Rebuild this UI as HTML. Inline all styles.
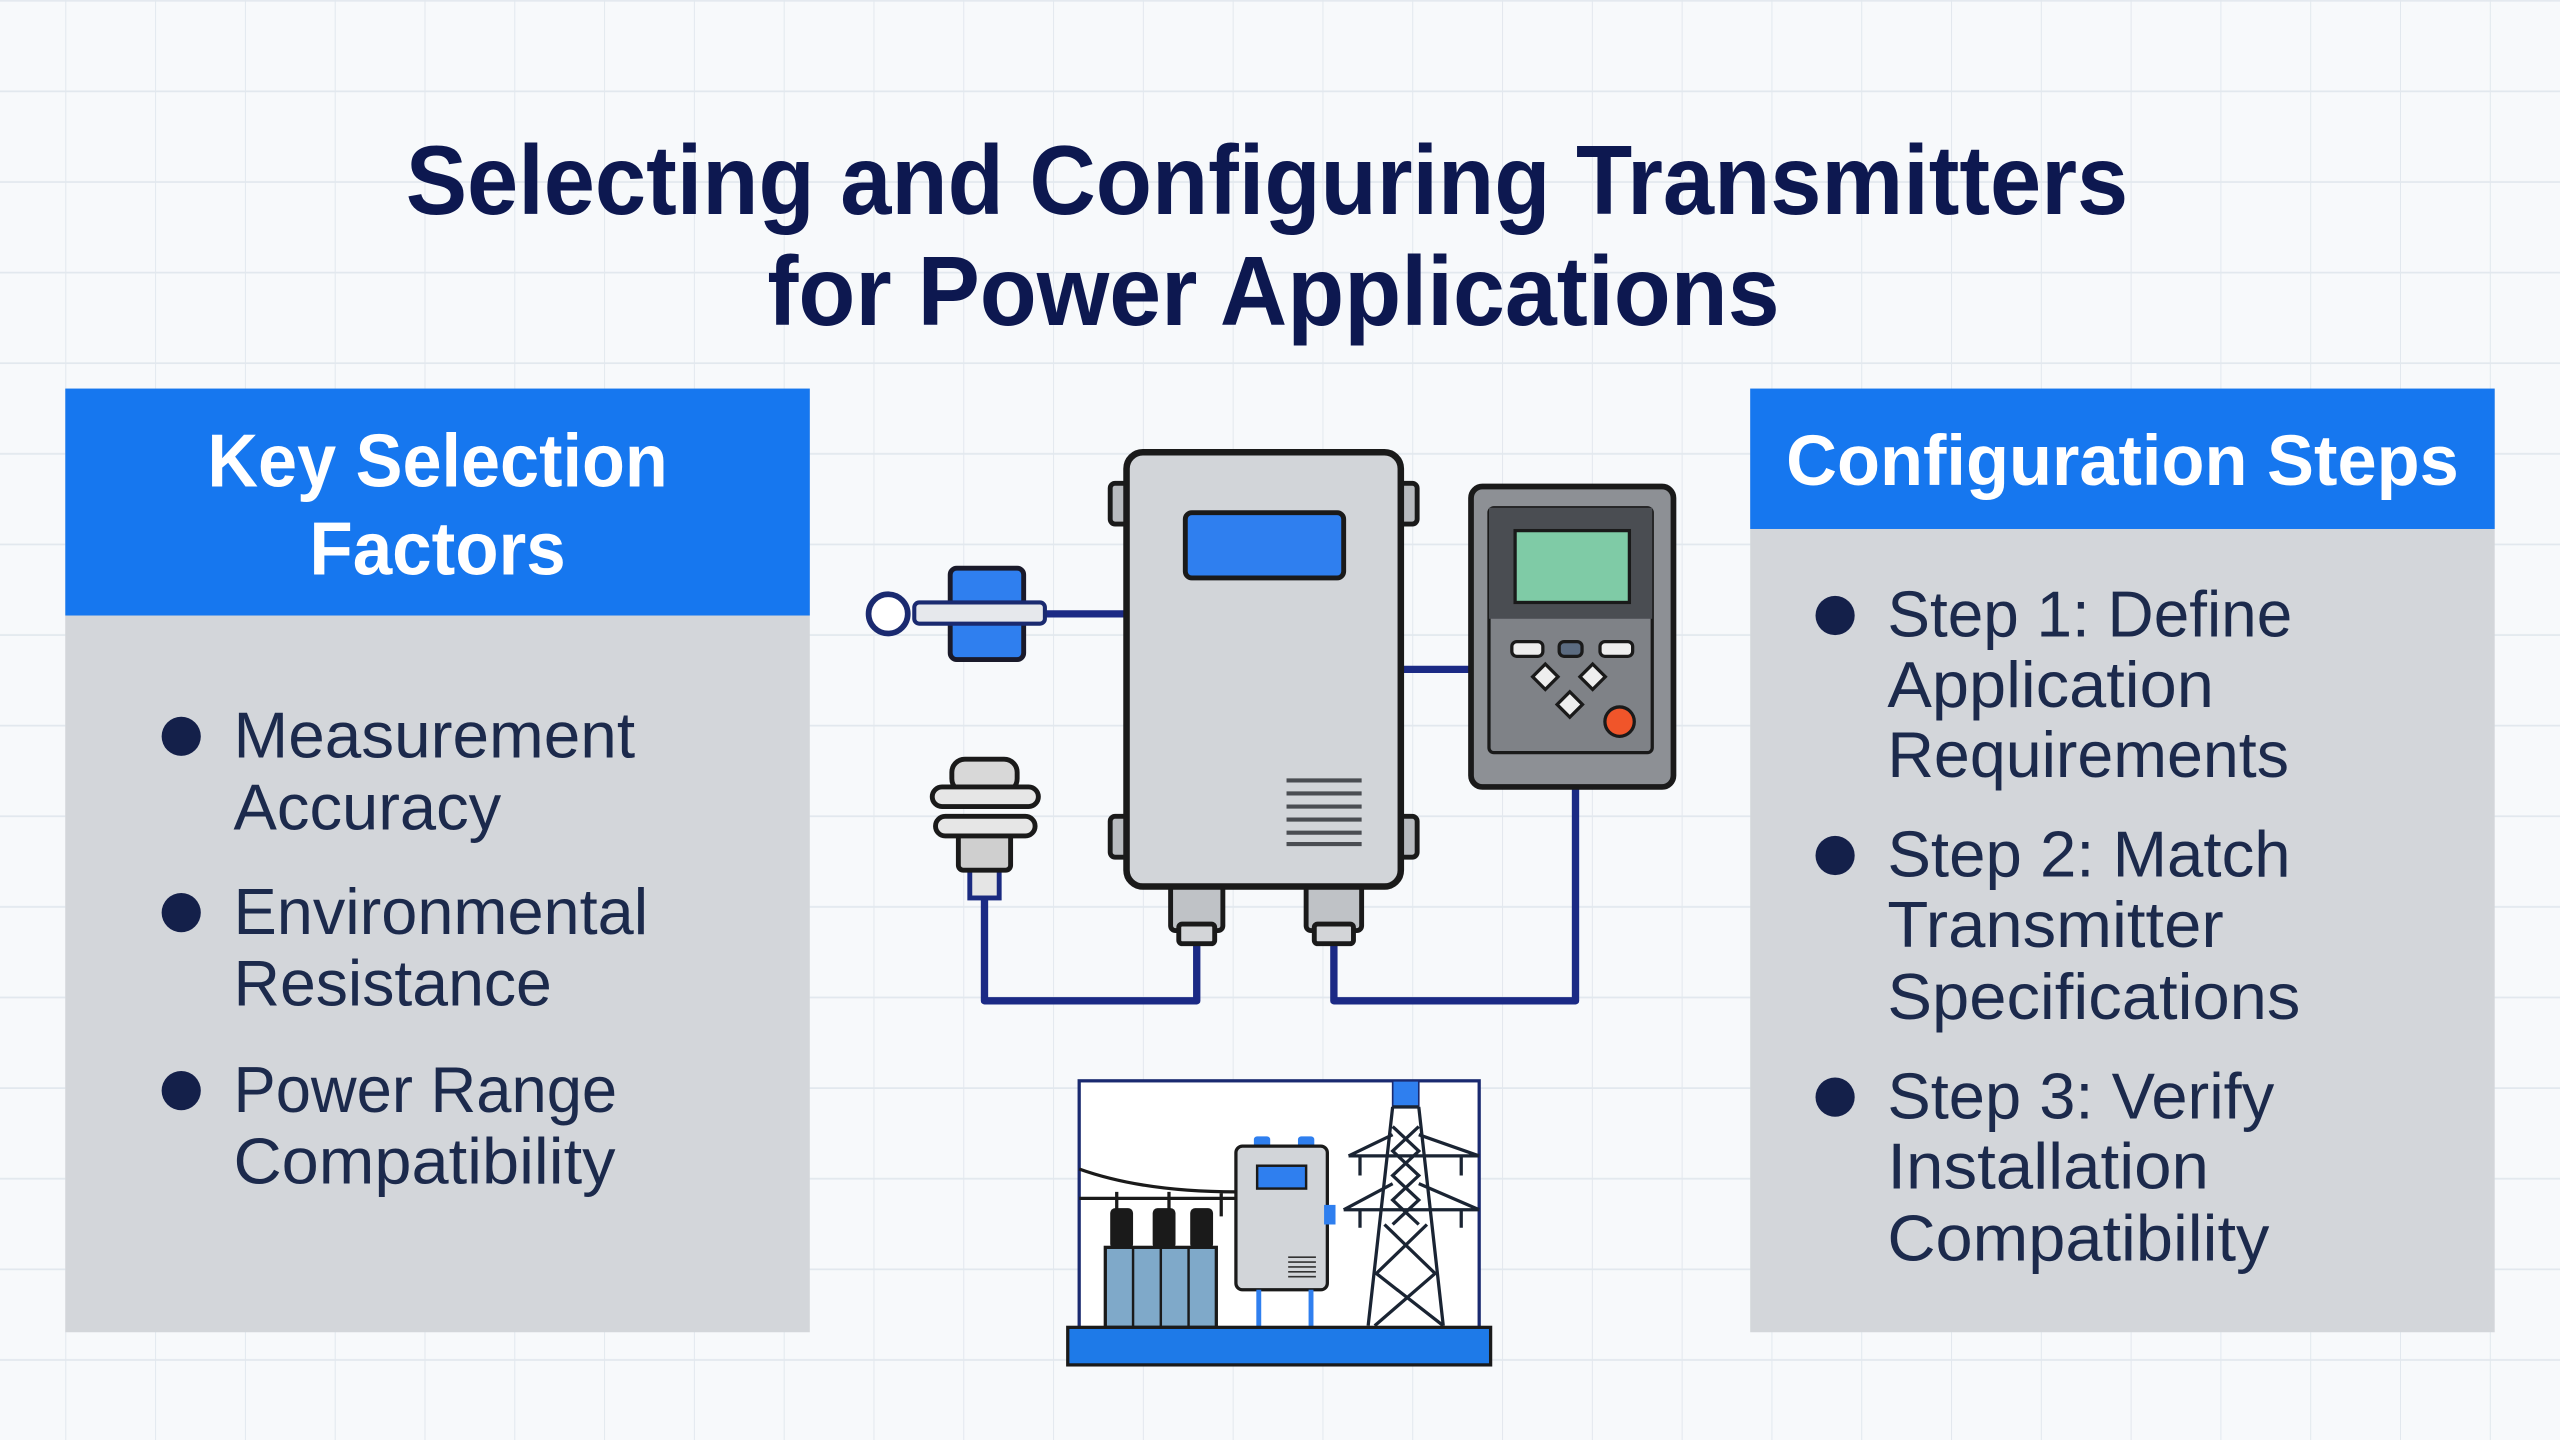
<!DOCTYPE html>
<html><head><meta charset="utf-8"><style>
html,body{margin:0;padding:0;background:#f7f9fb;}
svg{display:block}
text{font-family:"Liberation Sans",Arial,sans-serif}
</style></head><body>
<svg width="2560" height="1440" viewBox="0 0 1568 882" xmlns="http://www.w3.org/2000/svg">
<defs>
<pattern id="g" x="40" y="1" width="55" height="55.5" patternUnits="userSpaceOnUse">
<path d="M0 0V55.5M0 55H55" stroke="#e2e8ee" stroke-width="1.2" fill="none"/>
</pattern>
</defs>
<rect width="1568" height="882" fill="#f7f9fb"/>
<rect width="1568" height="882" fill="url(#g)"/>
<g fill="#0d1850" font-weight="bold" font-size="60" text-anchor="middle">
<text x="776" y="131" textLength="1055" lengthAdjust="spacingAndGlyphs">Selecting and Configuring Transmitters</text>
<text x="780" y="199" textLength="620" lengthAdjust="spacingAndGlyphs">for Power Applications</text>
</g>
<!-- left panel -->
<rect x="40" y="238" width="456" height="578" fill="#d3d6da"/>
<rect x="40" y="238" width="456" height="139" fill="#1677ef"/>
<g fill="#fff" font-weight="bold" font-size="46" text-anchor="middle">
<text x="268" y="298" textLength="282" lengthAdjust="spacingAndGlyphs">Key Selection</text>
<text x="268" y="352" textLength="157" lengthAdjust="spacingAndGlyphs">Factors</text>
</g>
<g fill="#14204a">
<circle cx="111" cy="451" r="12"/><circle cx="111" cy="559" r="12"/><circle cx="111" cy="668" r="12"/>
</g>
<g fill="#1c2a4c" font-size="40">
<text x="143" y="464" textLength="246" lengthAdjust="spacingAndGlyphs">Measurement</text>
<text x="143" y="508" textLength="164" lengthAdjust="spacingAndGlyphs">Accuracy</text>
<text x="143" y="572" textLength="254" lengthAdjust="spacingAndGlyphs">Environmental</text>
<text x="143" y="616" textLength="195" lengthAdjust="spacingAndGlyphs">Resistance</text>
<text x="143" y="681" textLength="235" lengthAdjust="spacingAndGlyphs">Power Range</text>
<text x="143" y="725" textLength="234" lengthAdjust="spacingAndGlyphs">Compatibility</text>
</g>
<!-- right panel -->
<rect x="1072" y="238" width="456" height="578" fill="#d3d6da"/>
<rect x="1072" y="238" width="456" height="86" fill="#1677ef"/>
<text x="1300" y="297" fill="#fff" font-weight="bold" font-size="44" text-anchor="middle" textLength="412" lengthAdjust="spacingAndGlyphs">Configuration Steps</text>
<g fill="#14204a">
<circle cx="1124" cy="377" r="12"/><circle cx="1124" cy="524" r="12"/><circle cx="1124" cy="672" r="12"/>
</g>
<g fill="#1c2a4c" font-size="40">
<text x="1156" y="390" textLength="248" lengthAdjust="spacingAndGlyphs">Step 1: Define</text>
<text x="1156" y="433" textLength="200" lengthAdjust="spacingAndGlyphs">Application</text>
<text x="1156" y="476" textLength="246" lengthAdjust="spacingAndGlyphs">Requirements</text>
<text x="1156" y="537" textLength="247" lengthAdjust="spacingAndGlyphs">Step 2: Match</text>
<text x="1156" y="580" textLength="206" lengthAdjust="spacingAndGlyphs">Transmitter</text>
<text x="1156" y="624" textLength="253" lengthAdjust="spacingAndGlyphs">Specifications</text>
<text x="1156" y="685" textLength="237" lengthAdjust="spacingAndGlyphs">Step 3: Verify</text>
<text x="1156" y="728" textLength="197" lengthAdjust="spacingAndGlyphs">Installation</text>
<text x="1156" y="772" textLength="234" lengthAdjust="spacingAndGlyphs">Compatibility</text>
</g>
<!-- wires -->
<g stroke="#1b2a85" stroke-width="4.5" fill="none" stroke-linejoin="round">
<path d="M603 548V613H733V578"/>
<path d="M817 578V613H965V482"/>
<path d="M858 410H901"/>
<path d="M640 376H690"/>
</g>
<!-- sensor -->
<rect x="582" y="348" width="45" height="56" rx="4" fill="#2f7fef" stroke="#1a1a2a" stroke-width="3"/>
<rect x="560" y="369" width="80" height="13" rx="3" fill="#e6e8ec" stroke="#1a2a70" stroke-width="2.5"/>
<circle cx="544" cy="376" r="12" fill="#fff" stroke="#1a2a70" stroke-width="3.5"/>
<!-- insulator -->
<g stroke="#1a1a1a" stroke-width="3" fill="#dcdcdc">
<rect x="594" y="530" width="18" height="20" fill="#e5e5e5" stroke="#1a2a80"/>
<rect x="587" y="505" width="32" height="28" rx="3" fill="#cfcfcf"/>
<rect x="583" y="465" width="40" height="20" rx="8" fill="#d8d8d8"/>
<rect x="571" y="482" width="65" height="12" rx="6" fill="#e6e6e6"/>
<rect x="573" y="500" width="61" height="12" rx="6" fill="#e6e6e6"/>
</g>
<!-- main box -->
<g stroke="#1a1a1a" stroke-width="3">
<rect x="680" y="296" width="14" height="25" rx="3" fill="#b8bbbf"/>
<rect x="854" y="296" width="14" height="25" rx="3" fill="#b8bbbf"/>
<rect x="680" y="500" width="14" height="25" rx="3" fill="#b8bbbf"/>
<rect x="854" y="500" width="14" height="25" rx="3" fill="#b8bbbf"/>
<rect x="717" y="540" width="32" height="30" rx="3" fill="#bfc2c6"/>
<rect x="722" y="566" width="22" height="12" rx="2" fill="#d3d5d8"/>
<rect x="800" y="540" width="34" height="30" rx="3" fill="#bfc2c6"/>
<rect x="805" y="566" width="24" height="12" rx="2" fill="#d3d5d8"/>
</g>
<rect x="690" y="277" width="168" height="266" rx="10" fill="#d2d5d9" stroke="#1a1a1a" stroke-width="4"/>
<rect x="726" y="314" width="97" height="40" rx="4" fill="#2f7fef" stroke="#1a1a1a" stroke-width="3"/>
<g stroke="#4a4d52" stroke-width="2.5">
<path d="M788 478H834M788 486H834M788 494H834M788 502H834M788 510H834M788 517H834"/>
</g>
<!-- control panel -->
<rect x="901" y="298" width="124" height="184" rx="7" fill="#8d9095" stroke="#1a1a1a" stroke-width="3.5"/>
<rect x="912" y="311" width="100" height="150" rx="3" fill="#7f8287" stroke="#1a1a1a" stroke-width="2"/>
<rect x="912" y="311" width="100" height="68" fill="#4a4d52"/>
<rect x="928" y="325" width="70" height="44" fill="#7fcba6" stroke="#1a1a1a" stroke-width="2"/>
<g stroke="#1a1a1a" stroke-width="2">
<rect x="926" y="393" width="19" height="9" rx="3" fill="#eee"/>
<rect x="955" y="393" width="14" height="9" rx="3" fill="#5b6b80"/>
<rect x="980" y="393" width="20" height="9" rx="3" fill="#eee"/>
<rect x="941" y="409" width="11" height="11" fill="#eee" transform="rotate(45 946.5 414.5)"/>
<rect x="970" y="409" width="11" height="11" fill="#eee" transform="rotate(45 975.5 414.5)"/>
<rect x="956" y="426" width="11" height="11" fill="#eee" transform="rotate(45 961.5 431.5)"/>
<circle cx="992" cy="442" r="9" fill="#f0552a"/>
</g>
<!-- bottom scene -->
<rect x="661" y="662" width="245" height="152" fill="#fff" stroke="#1a2a70" stroke-width="2"/>
<g stroke="#1a1a1a" stroke-width="2" fill="none">
<path d="M661 716Q700 730 757 730M661 734H757M684 730V745M716 730V745M748 730V745"/>
</g>
<rect x="680" y="740" width="14" height="25" rx="3" fill="#1a1a1a"/>
<rect x="706" y="740" width="14" height="25" rx="3" fill="#1a1a1a"/>
<rect x="729" y="740" width="14" height="25" rx="3" fill="#1a1a1a"/>
<rect x="677" y="764" width="68" height="49" fill="#7fa9c9" stroke="#1a1a1a" stroke-width="2"/>
<path d="M694 764V813M711 764V813M728 764V813" stroke="#1a1a1a" stroke-width="1.5"/>
<rect x="768" y="696" width="10" height="8" rx="2" fill="#2f7fef"/>
<rect x="795" y="696" width="10" height="8" rx="2" fill="#2f7fef"/>
<rect x="757" y="702" width="56" height="88" rx="4" fill="#d2d5d9" stroke="#1a1a1a" stroke-width="2"/>
<rect x="770" y="714" width="30" height="14" fill="#2f7fef" stroke="#1a1a1a" stroke-width="1.5"/>
<rect x="811" y="738" width="7" height="12" fill="#2f7fef"/>
<path d="M789 770H806M789 773H806M789 776H806M789 779H806M789 782H806" stroke="#333" stroke-width="1"/>
<path d="M771 790V813M803 790V813" stroke="#2f7fef" stroke-width="3"/>
<rect x="853" y="662" width="16" height="16" fill="#2f7fef" stroke="#1a2a70" stroke-width="1"/>
<g stroke="#1a2433" stroke-width="2" fill="none">
<path d="M853 678L838 812M869 678L884 812M853 678H869"/>
<path d="M853 690L869 705L853 720L869 735L853 750M869 690L853 705L869 720L853 735L869 750"/>
<path d="M848 750L879 780L842 812M874 750L843 780L884 812"/>
<path d="M826 708L853 695M869 695L906 708M826 708H906M823 741L853 725M869 725L906 741M823 741H906"/>
<path d="M833 708V720M895 708V720M833 741V752M895 741V752"/>
</g>
<rect x="654" y="813" width="259" height="23" fill="#1e7ae8" stroke="#1a1a1a" stroke-width="2"/>
</svg>
</body></html>
